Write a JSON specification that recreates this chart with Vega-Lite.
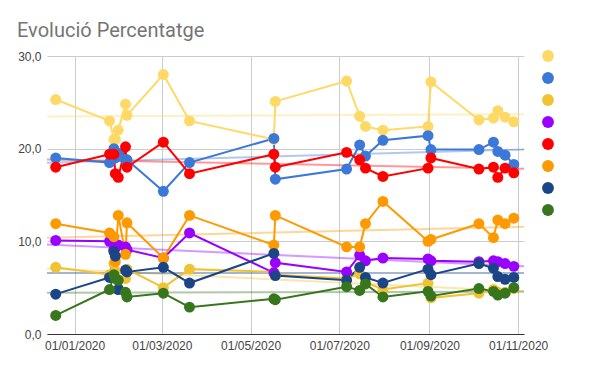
{
"$schema":"https://vega.github.io/schema/vega-lite/v6.json",
"width":477,"height":278,
"autosize":{"type":"none"},
"padding":{"left":47,"top":56,"right":72,"bottom":33},
"background":"white",
"title":{"text":"Evolució Percentatge","anchor":"start","frame":"group","dx":-30,"dy":28,"offset":21,"fontSize":20,"font":"Roboto","fontWeight":"normal","color":"#757575","baseline":"alphabetic"},
"config":{"view":{"stroke":null},"font":"Liberation Sans"},
"data":{"format":{"parse":{"d":"date"}},"values":[
{"s":"A","d":"2019-12-19","v":25.3},{"s":"A","d":"2020-01-25","v":23.0},{"s":"A","d":"2020-01-28","v":21.0},{"s":"A","d":"2020-01-29","v":21.0},{"s":"A","d":"2020-01-31","v":22.0},{"s":"A","d":"2020-02-05","v":24.8},{"s":"A","d":"2020-02-06","v":23.6},{"s":"A","d":"2020-03-02","v":28.0},{"s":"A","d":"2020-03-20","v":23.0},{"s":"A","d":"2020-05-17","v":21.0},{"s":"A","d":"2020-05-18","v":25.1},{"s":"A","d":"2020-07-06","v":27.3},{"s":"A","d":"2020-07-15","v":23.5},{"s":"A","d":"2020-07-19","v":22.4},{"s":"A","d":"2020-07-31","v":22.0},{"s":"A","d":"2020-08-31","v":22.4},{"s":"A","d":"2020-09-02","v":27.2},{"s":"A","d":"2020-10-05","v":23.1},{"s":"A","d":"2020-10-15","v":23.3},{"s":"A","d":"2020-10-18","v":24.1},{"s":"A","d":"2020-10-23","v":23.4},{"s":"A","d":"2020-10-29","v":22.9},
{"s":"B","d":"2019-12-19","v":19.0},{"s":"B","d":"2020-01-25","v":18.5},{"s":"B","d":"2020-01-28","v":20.0},{"s":"B","d":"2020-01-29","v":19.0},{"s":"B","d":"2020-01-31","v":19.5},{"s":"B","d":"2020-02-05","v":18.8},{"s":"B","d":"2020-02-06","v":18.8},{"s":"B","d":"2020-03-02","v":15.4},{"s":"B","d":"2020-03-20","v":18.5},{"s":"B","d":"2020-05-17","v":21.1},{"s":"B","d":"2020-05-18","v":16.7},{"s":"B","d":"2020-07-06","v":17.8},{"s":"B","d":"2020-07-15","v":20.4},{"s":"B","d":"2020-07-19","v":19.2},{"s":"B","d":"2020-07-31","v":20.9},{"s":"B","d":"2020-08-31","v":21.4},{"s":"B","d":"2020-09-02","v":19.9},{"s":"B","d":"2020-10-05","v":19.9},{"s":"B","d":"2020-10-15","v":20.7},{"s":"B","d":"2020-10-18","v":19.7},{"s":"B","d":"2020-10-23","v":19.3},{"s":"B","d":"2020-10-29","v":18.3},
{"s":"C","d":"2019-12-19","v":7.2},{"s":"C","d":"2020-01-25","v":6.4},{"s":"C","d":"2020-01-28","v":7.6},{"s":"C","d":"2020-01-29","v":6.8},{"s":"C","d":"2020-01-31","v":5.8},{"s":"C","d":"2020-02-05","v":6.0},{"s":"C","d":"2020-02-06","v":7.0},{"s":"C","d":"2020-03-02","v":5.0},{"s":"C","d":"2020-03-20","v":7.0},{"s":"C","d":"2020-05-17","v":6.7},{"s":"C","d":"2020-05-18","v":6.4},{"s":"C","d":"2020-07-06","v":6.0},{"s":"C","d":"2020-07-15","v":6.5},{"s":"C","d":"2020-07-19","v":5.6},{"s":"C","d":"2020-07-31","v":4.8},{"s":"C","d":"2020-08-31","v":5.5},{"s":"C","d":"2020-09-02","v":3.9},{"s":"C","d":"2020-10-05","v":4.4},{"s":"C","d":"2020-10-15","v":4.8},{"s":"C","d":"2020-10-18","v":4.5},{"s":"C","d":"2020-10-23","v":4.5},{"s":"C","d":"2020-10-29","v":4.9},
{"s":"D","d":"2019-12-19","v":10.1},{"s":"D","d":"2020-01-25","v":10.0},{"s":"D","d":"2020-01-28","v":9.1},{"s":"D","d":"2020-01-29","v":9.3},{"s":"D","d":"2020-01-31","v":9.6},{"s":"D","d":"2020-02-05","v":9.4},{"s":"D","d":"2020-02-06","v":9.1},{"s":"D","d":"2020-03-02","v":8.2},{"s":"D","d":"2020-03-20","v":10.9},{"s":"D","d":"2020-05-17","v":6.6},{"s":"D","d":"2020-05-18","v":7.7},{"s":"D","d":"2020-07-06","v":6.7},{"s":"D","d":"2020-07-15","v":8.5},{"s":"D","d":"2020-07-19","v":7.9},{"s":"D","d":"2020-07-31","v":8.2},{"s":"D","d":"2020-08-31","v":8.1},{"s":"D","d":"2020-09-02","v":7.9},{"s":"D","d":"2020-10-05","v":7.8},{"s":"D","d":"2020-10-15","v":7.9},{"s":"D","d":"2020-10-18","v":7.8},{"s":"D","d":"2020-10-23","v":7.6},{"s":"D","d":"2020-10-29","v":7.3},
{"s":"E","d":"2019-12-19","v":18.0},{"s":"E","d":"2020-01-25","v":19.4},{"s":"E","d":"2020-01-28","v":19.4},{"s":"E","d":"2020-01-29","v":17.3},{"s":"E","d":"2020-01-31","v":16.9},{"s":"E","d":"2020-02-05","v":20.2},{"s":"E","d":"2020-02-06","v":18.0},{"s":"E","d":"2020-03-02","v":20.7},{"s":"E","d":"2020-03-20","v":17.3},{"s":"E","d":"2020-05-17","v":19.4},{"s":"E","d":"2020-05-18","v":18.0},{"s":"E","d":"2020-07-06","v":19.6},{"s":"E","d":"2020-07-15","v":18.8},{"s":"E","d":"2020-07-19","v":17.9},{"s":"E","d":"2020-07-31","v":17.0},{"s":"E","d":"2020-08-31","v":17.9},{"s":"E","d":"2020-09-02","v":19.0},{"s":"E","d":"2020-10-05","v":17.8},{"s":"E","d":"2020-10-15","v":18.0},{"s":"E","d":"2020-10-18","v":16.9},{"s":"E","d":"2020-10-23","v":17.9},{"s":"E","d":"2020-10-29","v":17.4},
{"s":"F","d":"2019-12-19","v":11.9},{"s":"F","d":"2020-01-25","v":10.9},{"s":"F","d":"2020-01-28","v":10.5},{"s":"F","d":"2020-01-29","v":7.8},{"s":"F","d":"2020-01-31","v":12.8},{"s":"F","d":"2020-02-05","v":8.6},{"s":"F","d":"2020-02-06","v":12.0},{"s":"F","d":"2020-03-02","v":8.2},{"s":"F","d":"2020-03-20","v":12.8},{"s":"F","d":"2020-05-17","v":9.6},{"s":"F","d":"2020-05-18","v":12.8},{"s":"F","d":"2020-07-06","v":9.4},{"s":"F","d":"2020-07-15","v":9.4},{"s":"F","d":"2020-07-19","v":11.9},{"s":"F","d":"2020-07-31","v":14.3},{"s":"F","d":"2020-08-31","v":10.0},{"s":"F","d":"2020-09-02","v":10.2},{"s":"F","d":"2020-10-05","v":11.9},{"s":"F","d":"2020-10-15","v":10.4},{"s":"F","d":"2020-10-18","v":12.3},{"s":"F","d":"2020-10-23","v":11.9},{"s":"F","d":"2020-10-29","v":12.5},
{"s":"G","d":"2019-12-19","v":4.3},{"s":"G","d":"2020-01-25","v":6.1},{"s":"G","d":"2020-01-28","v":8.9},{"s":"G","d":"2020-01-29","v":8.4},{"s":"G","d":"2020-01-31","v":4.8},{"s":"G","d":"2020-02-05","v":6.9},{"s":"G","d":"2020-02-06","v":6.7},{"s":"G","d":"2020-03-02","v":7.2},{"s":"G","d":"2020-03-20","v":5.5},{"s":"G","d":"2020-05-17","v":8.7},{"s":"G","d":"2020-05-18","v":6.3},{"s":"G","d":"2020-07-06","v":5.8},{"s":"G","d":"2020-07-15","v":7.2},{"s":"G","d":"2020-07-19","v":6.1},{"s":"G","d":"2020-07-31","v":5.5},{"s":"G","d":"2020-08-31","v":7.0},{"s":"G","d":"2020-09-02","v":6.4},{"s":"G","d":"2020-10-05","v":7.6},{"s":"G","d":"2020-10-15","v":7.1},{"s":"G","d":"2020-10-18","v":6.2},{"s":"G","d":"2020-10-23","v":5.9},{"s":"G","d":"2020-10-29","v":6.1},
{"s":"H","d":"2019-12-19","v":2.0},{"s":"H","d":"2020-01-25","v":4.8},{"s":"H","d":"2020-01-28","v":6.4},{"s":"H","d":"2020-01-29","v":6.0},{"s":"H","d":"2020-01-31","v":5.8},{"s":"H","d":"2020-02-05","v":4.5},{"s":"H","d":"2020-02-06","v":4.0},{"s":"H","d":"2020-03-02","v":4.4},{"s":"H","d":"2020-03-20","v":2.9},{"s":"H","d":"2020-05-17","v":3.8},{"s":"H","d":"2020-05-18","v":3.7},{"s":"H","d":"2020-07-06","v":5.1},{"s":"H","d":"2020-07-15","v":4.7},{"s":"H","d":"2020-07-19","v":5.4},{"s":"H","d":"2020-07-31","v":4.0},{"s":"H","d":"2020-08-31","v":4.6},{"s":"H","d":"2020-09-02","v":4.1},{"s":"H","d":"2020-10-05","v":4.9},{"s":"H","d":"2020-10-15","v":4.6},{"s":"H","d":"2020-10-18","v":4.2},{"s":"H","d":"2020-10-23","v":4.4},{"s":"H","d":"2020-10-29","v":5.0}
]},
"encoding":{
"x":{"field":"d","type":"temporal","scale":{"domain":[1576195200000,1604534400000]},
 "axis":{"title":null,"values":[1577836800000,1583020800000,1588291200000,1593561600000,1598918400000,1604188800000],"format":"%d/%m/%Y","grid":true,"gridColor":"#cccccc","domainColor":"#333333","ticks":false,"labelFontSize":12,"labelColor":"#444444","labelPadding":6,"labelFlush":false}},
"y":{"field":"v","type":"quantitative","scale":{"domain":[0,30],"nice":false},
 "axis":{"title":null,"values":[0,10,20,30],"labelExpr":"replace(format(datum.value,'.1f'),'.',',')","grid":true,"gridColor":"#cccccc","domain":false,"ticks":false,"labelFontSize":12,"labelColor":"#444444","labelPadding":6}},
"color":{"field":"s","type":"nominal","scale":{"domain":["A","B","C","D","E","F","G","H"],"range":["#ffd966","#3c78d8","#f1c232","#9900ff","#ff0000","#ff9900","#1c4587","#38761d"]},
 "legend":{"orient":"none","legendX":495,"legendY":-6,"title":null,"labelExpr":"''","symbolType":"circle","symbolSize":140,"rowPadding":10,"labelFontSize":10,"padding":0,"symbolStrokeWidth":0,"symbolOpacity":1}}
},
"layer":[
{"transform":[{"regression":"v","on":"d","groupby":["s"],"extent":[1576195200000,1604534400000]}],
 "mark":{"type":"line","strokeWidth":2,"opacity":0.4}},
{"mark":{"type":"line","strokeWidth":2}},
{"mark":{"type":"circle","size":120,"opacity":1}}
]
}
